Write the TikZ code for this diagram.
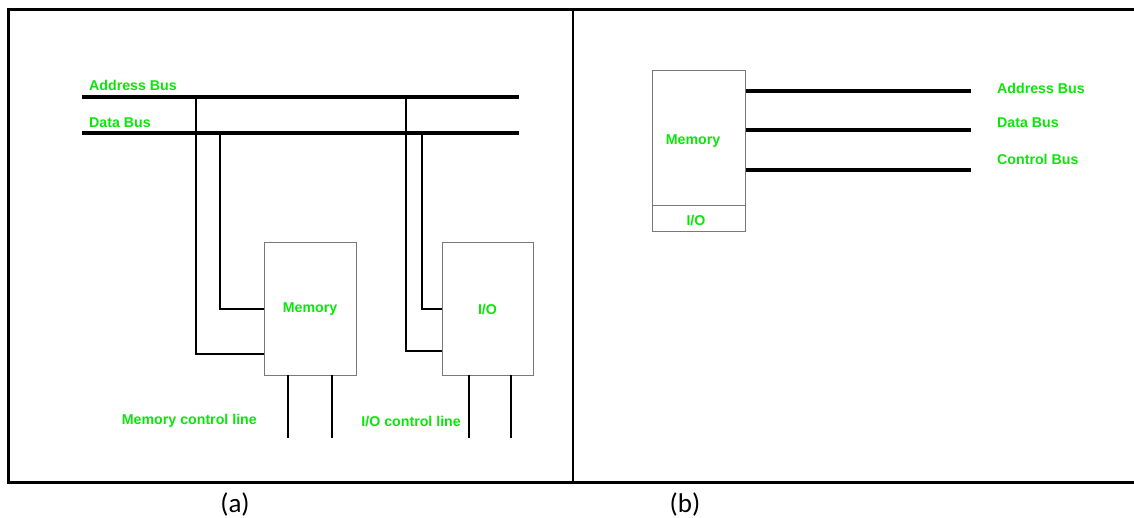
\documentclass[tikz,border=0pt]{standalone}
\usepackage{fontspec}
\setmainfont{Liberation Sans}
\newfontfamily\capfont{Carlito}
\definecolor{lblgreen}{RGB}{10,230,10}
\definecolor{boxgray}{RGB}{120,120,120}
\tikzset{
  frameline/.style={line width=3pt},
  busline/.style={line width=4pt},
  tapline/.style={line width=1.8pt},
  ctrlline/.style={line width=2.2pt},
  unitbox/.style={draw=boxgray, line width=1pt, rectangle, inner sep=0pt, text=lblgreen, font=\bfseries\fontsize{14.2}{16}\selectfont},
  lbl/.style={text=lblgreen, font=\bfseries\fontsize{14.2}{16}\selectfont, inner sep=0pt},
  caption/.style={font=\capfont\fontsize{27}{32}\selectfont, inner sep=0pt}
}
\begin{document}
\begin{tikzpicture}[x=1pt,y=-1pt]
\useasboundingbox (0,0) rectangle (1134,518);
\fill[white] (0,0) rectangle (1134,518);
% outer frame
\coordinate (ftl) at (8,10);
\coordinate (ftr) at (1134,10);
\coordinate (fbl) at (8,482);
\coordinate (fbr) at (1134,482);
\coordinate (dvt) at (573,10);
\coordinate (dvb) at (573,482);
\draw[frameline] (ftr) -- (ftl) -- (fbl) -- (fbr);
\draw[line width=2.5pt] (dvt) -- (dvb);

% ---------- (a) ----------
\coordinate (ab1) at (82,97);
\coordinate (ab2) at (519,97);
\coordinate (db1) at (82,133);
\coordinate (db2) at (519,133);
\draw[busline] (ab1) -- (ab2);
\draw[busline] (db1) -- (db2);
\node[lbl, anchor=base west] (lab) at (89,91) {Address Bus};
\node[lbl, anchor=base west] (ldb) at (89,128) {Data Bus};

\node[unitbox, minimum width=92pt, minimum height=132pt] (mem) at (310,309) {Memory};
\node[unitbox, minimum width=91pt, minimum height=132pt] (io) at (487.5,309) {I/O};

% taps to memory
\coordinate (t1) at (196,97);
\coordinate (t2) at (220,133);
\coordinate (m1) at (264,354);
\coordinate (m2) at (264,309);
\draw[tapline] (t1) |- (m1);
\draw[tapline] (t2) |- (m2);
% taps to I/O
\coordinate (t3) at (406,97);
\coordinate (t4) at (422,133);
\coordinate (i1) at (442,351);
\coordinate (i2) at (442,309);
\draw[tapline] (t3) |- (i1);
\draw[tapline] (t4) |- (i2);

% control lines
\coordinate (mc1a) at (288,375); \coordinate (mc1b) at (288,438);
\coordinate (mc2a) at (332,375); \coordinate (mc2b) at (332,438);
\coordinate (ic1a) at (469,375); \coordinate (ic1b) at (469,438);
\coordinate (ic2a) at (511,375); \coordinate (ic2b) at (511,438);
\draw[ctrlline] (mc1a) -- (mc1b);
\draw[ctrlline] (mc2a) -- (mc2b);
\draw[ctrlline] (ic1a) -- (ic1b);
\draw[ctrlline] (ic2a) -- (ic2b);
\node[lbl, anchor=east] (lmc) at (257,421) {Memory control line};
\node[lbl, anchor=east] (lic) at (461,421) {I/O control line};

% ---------- (b) ----------
\node[unitbox, minimum width=93pt, minimum height=135pt] (bmem) at (698.5,138.5) {};
\node[lbl] (bmemt) at (693,141) {Memory};
\node[unitbox, minimum width=93pt, minimum height=26pt] (bio) at (698.5,219) {};
\node[lbl] (biot) at (696,220) {I/O};

\coordinate (ba1) at (746,91);  \coordinate (ba2) at (971,91);
\coordinate (bd1) at (746,130); \coordinate (bd2) at (971,130);
\coordinate (bc1) at (746,170); \coordinate (bc2) at (971,170);
\draw[busline] (ba1) -- (ba2);
\draw[busline] (bd1) -- (bd2);
\draw[busline] (bc1) -- (bc2);
\node[lbl, anchor=west] (bla) at (997,88) {Address Bus};
\node[lbl, anchor=west] (bld) at (997,123) {Data Bus};
\node[lbl, anchor=west] (blc) at (997,159) {Control Bus};

% captions
\node[caption] (capa) at (235,504) {(a)};
\node[caption] (capb) at (685,504) {(b)};
\end{tikzpicture}
\end{document}
